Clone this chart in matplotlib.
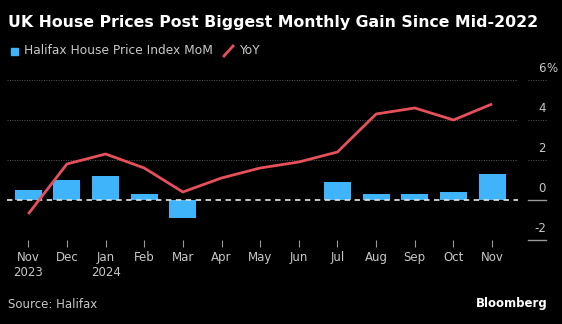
import matplotlib
matplotlib.use("Agg")
import matplotlib.pyplot as plt
import numpy as np

# Halifax house price index, Nov 2023 - Nov 2024
months = ["Nov", "Dec", "Jan", "Feb", "Mar", "Apr", "May", "Jun",
          "Jul", "Aug", "Sep", "Oct", "Nov"]
years = ["2023", "", "2024", "", "", "", "", "", "", "", "", "", ""]
mom = [0.5, 1.0, 1.2, 0.3, -0.9, 0.0, 0.0, 0.0, 0.9, 0.3, 0.3, 0.4, 1.3]
yoy = [-0.7, 1.8, 2.3, 1.6, 0.4, 1.1, 1.6, 1.9, 2.4, 4.3, 4.6, 4.0, 4.8]
yticks = [-2, 0, 2, 4, 6]

BG = "black"
BLUE = "#3fb4fb"
RED = "#e5505a"
GRID = "#5a5a5a"
TXT = "#c8c8c8"

W, H = 562, 324
fig = plt.figure(figsize=(W / 100, H / 100), dpi=100, facecolor=BG)

# plot area in pixel coordinates
x0, x1 = 7, 518
ytop, ybot = 80, 240
ax = fig.add_axes([x0 / W, 1 - ybot / H, (x1 - x0) / W, (ybot - ytop) / H])
ax.set_facecolor(BG)

x = np.arange(len(months))
ax.set_xlim(-0.55, 12.67)
ax.set_ylim(-2, 6)

for t in [2, 4, 6]:
    ax.axhline(t, color=GRID, lw=0.7, ls=(0, (1, 1.5)), zorder=0)

ax.bar(x, mom, width=0.7, color=BLUE, zorder=2)
ax.axhline(0, color="#d8d8d8", lw=1.3, ls=(0, (3, 2.5)), zorder=3)
ax.plot(x, yoy, color=RED, lw=2, zorder=4, solid_capstyle="butt")

for s in ax.spines.values():
    s.set_visible(False)
ax.set_yticks([])
ax.set_xticks(x)
ax.set_xticklabels([m + ("\n" + y if y else "") for m, y in zip(months, years)],
                   color=TXT, fontsize=8.5, linespacing=1.2)
ax.tick_params(axis="x", length=5, width=0.8, color="#9a9a9a", pad=3)

# right-hand value axis: short stubs with labels sitting on them
def ypix(v):
    return 1 - (ybot - (v - (-2)) / 8 * (ybot - ytop)) / H

for t in yticks:
    yp = ypix(t)
    solid = t <= 0
    fig.add_artist(plt.Line2D([528 / W, 546 / W], [yp, yp],
                              transform=fig.transFigure,
                              color="#9a9a9a" if solid else GRID,
                              lw=1.0 if solid else 0.7,
                              ls="-" if solid else (0, (1, 1.5))))
    fig.text(546 / W, yp + 5 / H, str(t), color=TXT, fontsize=8.5,
             ha="right", va="bottom")
    if t == 6:
        fig.text(546 / W, yp + 5 / H, "%", color=TXT, fontsize=8.5,
                 ha="left", va="bottom")

fig.text(8 / W, 1 - 27 / H, "UK House Prices Post Biggest Monthly Gain Since Mid-2022",
         color="white", fontsize=11.33, fontweight="bold", va="baseline")

# legend
fig.patches.append(plt.Rectangle((11 / W, 1 - 55 / H), 7 / W, 7 / H,
                                 transform=fig.transFigure, color=BLUE))
fig.text(24 / W, 1 - 51 / H, "Halifax House Price Index MoM", color=TXT,
         fontsize=8.8, va="center")
fig.add_artist(plt.Line2D([224 / W, 233 / W], [1 - 56 / H, 1 - 46 / H],
                          transform=fig.transFigure, color=RED, lw=2))
fig.text(239 / W, 1 - 51 / H, "YoY", color=TXT, fontsize=8.8, va="center")

fig.text(8 / W, 1 - 305 / H, "Source: Halifax", color=TXT, fontsize=8.5,
         va="center")
fig.text(548 / W, 1 - 303 / H, "Bloomberg", color="white", fontsize=8.5,
         fontweight="bold", ha="right", va="center")

fig.savefig("out.png", dpi=100, facecolor=BG)
